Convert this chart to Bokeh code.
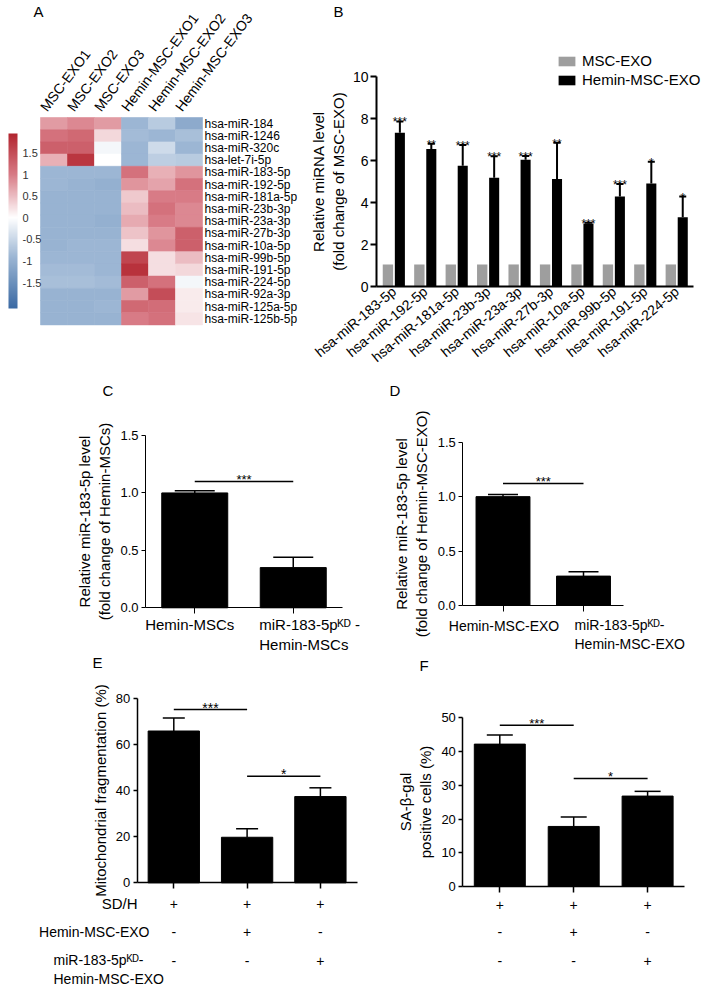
import math
import numpy as np
from bokeh.plotting import figure
from bokeh.layouts import column, row
from bokeh.models import (ColumnDataSource, Range1d, Whisker, TeeHead, LinearColorMapper,
                          ColorBar, FixedTicker, Label, Legend, LegendItem, PrintfTickFormatter)
from bokeh.transform import dodge
from bokeh.core.properties import value
from bokeh.embed import file_html
from bokeh.resources import INLINE

FONT = "Liberation Sans"

# ---------------- Panel A data (row z-scores) ----------------
hm_rows = ["hsa-miR-184", "hsa-miR-1246", "hsa-miR-320c", "hsa-let-7i-5p", "hsa-miR-183-5p",
           "hsa-miR-192-5p", "hsa-miR-181a-5p", "hsa-miR-23b-3p", "hsa-miR-23a-3p", "hsa-miR-27b-3p",
           "hsa-miR-10a-5p", "hsa-miR-99b-5p", "hsa-miR-191-5p", "hsa-miR-224-5p", "hsa-miR-92a-3p",
           "hsa-miR-125a-5p", "hsa-miR-125b-5p"]
hm_cols = ["MSC-EXO1", "MSC-EXO2", "MSC-EXO3", "Hemin-MSC-EXO1", "Hemin-MSC-EXO2", "Hemin-MSC-EXO3"]
msc_exo1 = [0.75, 1.10, 1.30, 0.60, -0.90, -0.90, -0.95, -0.95, -0.95, -0.95, -0.95, -0.90, -0.85, -0.80, -0.95, -0.95, -0.95]
msc_exo2 = [0.90, 1.20, 1.30, 1.75, -0.90, -0.95, -0.95, -0.95, -0.95, -0.95, -0.90, -0.90, -0.85, -0.80, -0.95, -0.95, -0.95]
msc_exo3 = [0.75, 0.30, -0.10, 0.00, -0.90, -1.00, -0.95, -0.95, -1.00, -0.95, -0.90, -0.90, -0.90, -0.85, -0.95, -0.90, -0.95]
hemin_exo1 = [-0.90, -0.85, -0.90, -0.90, 1.10, 0.80, 0.40, 0.50, 0.65, 0.45, 0.25, 1.60, 1.80, 1.30, 0.75, 1.20, 1.00]
hemin_exo2 = [-0.65, -0.90, -0.45, -0.60, 0.60, 0.70, 1.00, 1.10, 1.00, 0.80, 0.90, 0.25, 0.25, 1.10, 1.50, 1.15, 1.10]
hemin_exo3 = [-1.10, -0.80, -0.90, -0.65, 0.80, 1.10, 1.00, 0.90, 0.90, 1.30, 1.30, 0.50, 0.30, -0.10, 0.15, 0.15, 0.20]
cbar_ticks = [-1.5, -1, -0.5, 0, 0.5, 1, 1.5]
cbar_low, cbar_high = -2.1, 1.95

# ---------------- Panel B data ----------------
b_mirna = ["hsa-miR-183-5p", "hsa-miR-192-5p", "hsa-miR-181a-5p", "hsa-miR-23b-3p", "hsa-miR-23a-3p",
           "hsa-miR-27b-3p", "hsa-miR-10a-5p", "hsa-miR-99b-5p", "hsa-miR-191-5p", "hsa-miR-224-5p"]
b_msc = [1.05, 1.05, 1.05, 1.05, 1.05, 1.05, 1.05, 1.05, 1.05, 1.05]
b_hemin = [7.32, 6.55, 5.75, 5.18, 6.04, 5.12, 3.00, 4.28, 4.91, 3.30]
b_hemin_up = [7.86, 6.80, 6.74, 6.20, 6.21, 6.85, 3.03, 4.88, 5.94, 4.28]
b_sig = ["***", "**", "***", "***", "***", "**", "***", "***", "*", "*"]
b_series = ["MSC-EXO", "Hemin-MSC-EXO"]
b_yticks = [0, 2, 4, 6, 8, 10]

# ---------------- Panel C data ----------------
c_groups = ["Hemin-MSCs", "miR-183-5p\u1d37\u1d30 -\nHemin-MSCs"]
c_mean = [1.00, 0.35]
c_up = [1.02, 0.44]
c_sig_from, c_sig_to, c_sig_y, c_sig_t = [0], [1], [1.10], ["***"]

# ---------------- Panel D data ----------------
d_groups = ["Hemin-MSC-EXO", "miR-183-5p\u1d37\u1d30-\nHemin-MSC-EXO"]
d_mean = [1.00, 0.27]
d_up = [1.02, 0.31]
d_sig_from, d_sig_to, d_sig_y, d_sig_t = [0], [1], [1.12], ["***"]
cd_yticks = [0, 0.5, 1.0, 1.5]

# ---------------- Panels E / F data ----------------
tbl_row_names = ["SD/H", "Hemin-MSC-EXO", "miR-183-5p\u1d37\u1d30-\nHemin-MSC-EXO"]
tbl_sdh = ["+", "+", "+"]
tbl_exo = ["-", "+", "-"]
tbl_kd = ["-", "-", "+"]
e_mean = [66.0, 19.8, 37.5]
e_up = [71.7, 23.5, 41.3]
e_sig_from, e_sig_to, e_sig_y, e_sig_t = [0, 1], [1, 2], [75.3, 46.3], ["***", "*"]
e_yticks = [0, 20, 40, 60, 80]
f_mean = [42.2, 17.8, 26.8]
f_up = [44.9, 20.6, 28.2]
f_sig_from, f_sig_to, f_sig_y, f_sig_t = [0, 1], [1, 2], [47.8, 32.0], ["***", "*"]
f_yticks = [0, 10, 20, 30, 40, 50]


# ---------------- helpers ----------------
def xr(v0, p0, scale, left, width):
    start = v0 - (p0 - left) / scale
    return Range1d(start, start + width / scale)


def yr(v0, p0, scale, top, height):
    end = v0 + (p0 - top) / scale
    return Range1d(end - height / scale, end)


def canvas(width, height, x_range, y_range, xloc="below", yloc="left"):
    p = figure(width=width, height=height, x_range=x_range, y_range=y_range,
               output_backend="svg", toolbar_location=None, min_border=0,
               x_axis_location=xloc, y_axis_location=yloc)
    p.grid.visible = False
    p.outline_line_color = None
    return p


def style_axis(ax, lw, tick_out, font_size):
    ax.axis_line_width = lw
    ax.axis_line_color = "black"
    ax.major_tick_line_width = lw
    ax.major_tick_line_color = "black"
    ax.major_tick_in = 0
    ax.major_tick_out = tick_out
    ax.minor_tick_line_color = None
    ax.major_label_text_font = FONT
    ax.major_label_text_font_size = font_size
    ax.major_label_text_color = "black"
    ax.axis_label_text_font = FONT
    ax.axis_label_text_font_style = "normal"
    ax.axis_label_text_color = "black"
    ax.axis_label_text_font_size = "15px"


def letter(p, txt, x, y):
    p.add_layout(Label(x=x, y=y, x_units="screen", y_units="screen", text=txt,
                       text_font=FONT, text_font_size="15px", text_baseline="middle",
                       text_align="left", text_color="black"))


def screen_text(p, txt, x, y, align, baseline, size):
    p.add_layout(Label(x=x, y=y, x_units="screen", y_units="screen", text=txt,
                       text_align=align, text_baseline=baseline, text_font=FONT,
                       text_font_size=size, text_color="black"))


def bar_panel(groups, means, ups, sfrom, sto, sy, st, box, xcal, ycal, yticks, ylabel,
              bar_w, cap, axis_lw, star_size, yfmt=None):
    left, top, width, height = box
    p = canvas(width, height, xr(0, xcal[0], xcal[1], left, width),
               yr(0, ycal[0], ycal[1], top, height))
    pos = list(range(len(groups)))
    src = ColumnDataSource(dict(x=pos, m=means, u=ups))
    p.vbar(x="x", top="m", width=bar_w, source=src, fill_color="black", line_color="black")
    p.add_layout(Whisker(base="x", upper="u", lower="m", source=src, line_width=1.5,
                         line_color="black",
                         upper_head=TeeHead(size=cap, line_width=1.5, line_color="black"),
                         lower_head=None))
    ssrc = ColumnDataSource(dict(x0=sfrom, x1=sto, y=sy, t=st))
    p.segment(x0="x0", y0="y", x1="x1", y1="y", source=ssrc, line_width=1.5, line_color="black")
    p.text(x=dodge("x0", 0.5), y="y", text="t", source=ssrc,
           text_align="center", text_baseline="alphabetic", y_offset=-2,
           text_font=value(FONT), text_font_size=value(star_size), text_color="black")
    ya, xa = p.yaxis[0], p.xaxis[0]
    style_axis(ya, axis_lw, 4, "13px")
    style_axis(xa, axis_lw, 6, "13px")
    ya.ticker = FixedTicker(ticks=yticks)
    if yfmt:
        ya.formatter = PrintfTickFormatter(format=yfmt)
    ya.bounds = (yticks[0], yticks[-1])
    ya.fixed_location = -0.5
    ya.major_label_standoff = 3
    ya.axis_label = ylabel
    ya.axis_label_standoff = 4
    xa.fixed_location = 0
    xa.bounds = (-0.5, len(groups) - 0.5)
    xa.ticker = FixedTicker(ticks=pos)
    xa.major_label_overrides = {i: "" for i in pos}
    return p


def glyph_label(p, x, text, y_off, align, x_off, size):
    src = ColumnDataSource(dict(x=[x], t=[text]))
    p.text(x="x", y=0, text="t", source=src, x_offset=x_off, y_offset=y_off,
           text_align=align, text_baseline="top", text_font=value(FONT),
           text_font_size=value(size), text_color="black")


def sign_rows(p, rows_signs, offsets):
    for signs, off in zip(rows_signs, offsets):
        src = ColumnDataSource(dict(x=list(range(len(signs))), s=signs))
        p.text(x="x", y=0, text="s", source=src, y_offset=off, text_align="center",
               text_baseline="middle", text_font=value(FONT), text_font_size=value("14px"),
               text_color="black")


# ---------------- Panel A ----------------
stops_v = [cbar_low, -0.9, 0.0, 1.0, cbar_high]
stops_c = ["#3B6AA4", "#9DB7D4", "#FFFFFF", "#D87B86", "#B2252F"]
rgb = np.array([[int(c[i:i + 2], 16) for i in (1, 3, 5)] for c in stops_c])
pal = ["#%02x%02x%02x" % tuple(int(round(np.interp(v, stops_v, rgb[:, k]))) for k in range(3))
       for v in np.linspace(cbar_low, cbar_high, 256)]
mapper = LinearColorMapper(palette=pal, low=cbar_low, high=cbar_high)

A_W, A_H = 306, 365
CELL_W, CELL_H = 27, 12.2
hm_values = [msc_exo1, msc_exo2, msc_exo3, hemin_exo1, hemin_exo2, hemin_exo3]
n_r, n_c = len(hm_rows), len(hm_cols)
cells = dict(x=[], y=[], v=[])
for j, vals in enumerate(hm_values):
    for i, v in enumerate(vals):
        cells["x"].append(j)
        cells["y"].append(n_r - 1 - i)
        cells["v"].append(v)

pA = canvas(A_W, A_H, xr(-0.5, 40, CELL_W, 0, A_W), yr(n_r - 0.5, 117, CELL_H, 0, A_H),
            xloc="above", yloc=None)
pA.rect(x="x", y="y", width=1, height=1, source=ColumnDataSource(cells),
        fill_color={"field": "v", "transform": mapper},
        line_color={"field": "v", "transform": mapper}, line_width=0.6)
rowsrc = ColumnDataSource(dict(x=[n_c - 0.5] * n_r, y=list(range(n_r - 1, -1, -1)), t=hm_rows))
pA.text(x="x", y="y", text="t", source=rowsrc, x_offset=2, text_baseline="middle", text_align="left",
        text_font=value(FONT), text_font_size=value("12px"), text_color="black")
# column names: a top axis pinned to the heatmap's upper edge, labels rotated in screen space
LBL_SHIFT = 0.4
col_ticks = [j - LBL_SHIFT for j in range(n_c)]
axA = pA.xaxis[0]
axA.fixed_location = n_r - 0.5
axA.ticker = FixedTicker(ticks=col_ticks)
axA.major_label_overrides = {t: name for t, name in zip(col_ticks, hm_cols)}
axA.major_label_orientation = math.radians(53)
axA.axis_line_color = None
axA.major_tick_line_color = None
axA.minor_tick_line_color = None
axA.major_label_standoff = 2
axA.major_label_text_font = FONT
axA.major_label_text_font_size = "14px"
axA.major_label_text_color = "black"
cb = ColorBar(color_mapper=mapper, location=(8, A_H - 308), width=9, height=175, padding=0, margin=0,
              ticker=FixedTicker(ticks=cbar_ticks),
              major_label_overrides={t: ("%g" % t) for t in cbar_ticks},
              major_tick_line_color=None, minor_tick_line_color=None, label_standoff=5,
              major_label_text_font=FONT, major_label_text_font_size="11px",
              major_label_text_color="#333333", bar_line_color=None, border_line_color=None,
              background_fill_color=None)
pA.add_layout(cb)
letter(pA, "A", 33, A_H - 11)

# ---------------- Panel B ----------------
B_L, B_W, B_H = 306, 403, 365
pB = canvas(B_W, B_H, xr(0, 393.4, 31.43, B_L, B_W), yr(0, 286, 21.0, 0, B_H))
b_pos = list(range(len(b_mirna)))
srcB = ColumnDataSource(dict(x=b_pos, msc=b_msc, hemin=b_hemin, up=b_hemin_up, sig=b_sig))
rg = pB.vbar(x=dodge("x", -0.19), top="msc", width=0.33, source=srcB,
             fill_color="#9E9E9E", line_color=None)
rk = pB.vbar(x=dodge("x", 0.19), top="hemin", width=0.32, source=srcB,
             fill_color="black", line_color=None)
pB.add_layout(Whisker(base=dodge("x", 0.19), upper="up", lower="hemin",
                      source=srcB, line_width=2, line_color="black",
                      upper_head=TeeHead(size=7, line_width=2, line_color="black"), lower_head=None))
pB.text(x=dodge("x", 0.19), y="up", text="sig", source=srcB,
        text_align="center", text_baseline="alphabetic", y_offset=1,
        text_font=value(FONT), text_font_size=value("12px"), text_color="black")
bx_lo, bx_hi = (376 - 393.4) / 31.43, (693 - 393.4) / 31.43
yaB, xaB = pB.yaxis[0], pB.xaxis[0]
style_axis(yaB, 2, 6, "14px")
style_axis(xaB, 2, 0, "14px")
yaB.ticker = FixedTicker(ticks=b_yticks)
yaB.bounds = (b_yticks[0], b_yticks[-1])
yaB.fixed_location = bx_lo
yaB.major_label_standoff = 2
yaB.axis_label = "Relative miRNA level\n(fold change of MSC-EXO)"
yaB.axis_label_standoff = 3
xaB.fixed_location = 0
xaB.bounds = (bx_lo, bx_hi)
xaB.ticker = FixedTicker(ticks=b_pos)
xaB.major_label_overrides = {i: n for i, n in zip(b_pos, b_mirna)}
xaB.major_tick_line_color = None
xaB.major_label_orientation = math.radians(40)
xaB.major_label_standoff = 3
legB = Legend(items=[LegendItem(label=b_series[0], renderers=[rg]),
                     LegendItem(label=b_series[1], renderers=[rk])],
              location=(556 - B_L, B_H - 88), glyph_width=21, glyph_height=12, label_height=17,
              label_standoff=5, spacing=2, padding=0, margin=0, border_line_color=None,
              background_fill_alpha=0, label_text_font=FONT, label_text_font_size="15px",
              label_text_color="black")
pB.add_layout(legB)
letter(pB, "B", 333 - B_L, B_H - 11)

# ---------------- Panel C ----------------
R2 = 365
pC = bar_panel(c_groups, c_mean, c_up, c_sig_from, c_sig_to, c_sig_y, c_sig_t,
               (0, R2, 377, 290), (194.25, 98.5), (607.3, 114.87), cd_yticks,
               "Relative miR-183-5p level\n(fold change of Hemin-MSCs)", 0.67, 40, 1, "13px",
               yfmt="%.1f")
glyph_label(pC, 0, c_groups[0], 8, "center", -5, "15px")
glyph_label(pC, 1, c_groups[1], 8, "left", -34, "15px")
letter(pC, "C", 102, 290 - (390 - R2))

# ---------------- Panel D ----------------
pD = bar_panel(d_groups, d_mean, d_up, d_sig_from, d_sig_to, d_sig_y, d_sig_t,
               (377, R2, 332, 290), (502.5, 80.5), (605, 108.87), cd_yticks,
               "Relative miR-183-5p level\n(fold change of Hemin-MSC-EXO)", 0.67, 30, 1, "13px",
               yfmt="%.1f")
glyph_label(pD, 0, d_groups[0], 12, "center", 1, "14px")
glyph_label(pD, 1, d_groups[1], 11, "left", -9, "14px")
letter(pD, "D", 389 - 377, 290 - (390 - R2))

# ---------------- Panel E ----------------
R3 = 655
pE = bar_panel(tbl_sdh, e_mean, e_up, e_sig_from, e_sig_to, e_sig_y, e_sig_t,
               (0, R3, 377, 333), (173.3, 73.3), (882.3, 2.3), e_yticks,
               "Mitochondrial fragmentation (%)", 0.70, 22, 1.5, "14px")
sign_rows(pE, [tbl_sdh, tbl_exo, tbl_kd], [20.7, 49.4, 77.7])
screen_text(pE, tbl_row_names[0], 137, 333 - (903 - R3), "right", "middle", "15px")
screen_text(pE, tbl_row_names[1], 149, 333 - (931.7 - R3), "right", "middle", "14px")
screen_text(pE, tbl_row_names[2], 53, 333 - (951 - R3), "left", "top", "14px")
letter(pE, "E", 92, 333 - (662 - R3))

# ---------------- Panel F ----------------
pF = bar_panel(tbl_sdh, f_mean, f_up, f_sig_from, f_sig_to, f_sig_y, f_sig_t,
               (377, R3, 332, 333), (499.3, 73.9), (886, 3.374), f_yticks,
               "SA-\u03b2-gal\npositive cells (%)", 0.69, 26, 1.5, "13px")
sign_rows(pF, [tbl_sdh, tbl_exo, tbl_kd], [18, 45.7, 74.7])
letter(pF, "F", 419 - 377, 333 - (665 - R3))

layout = column(row(pA, pB), row(pC, pD), row(pE, pF))
open("out.html", "w").write(file_html(layout, INLINE))
